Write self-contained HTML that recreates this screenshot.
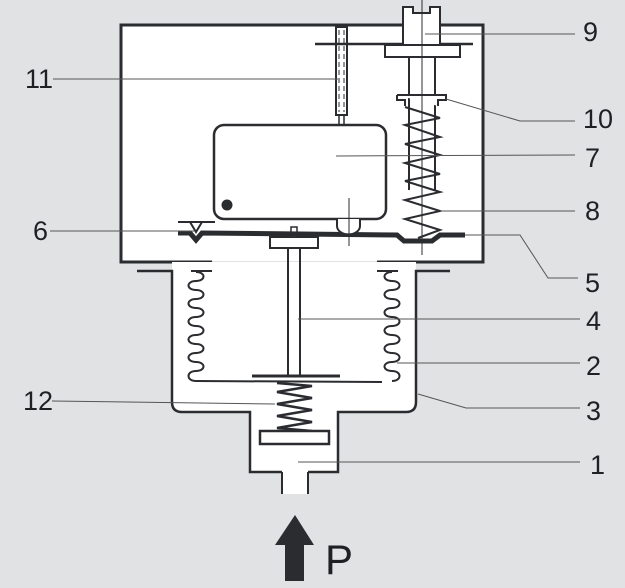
<!DOCTYPE html>
<html><head><style>
html,body{margin:0;padding:0;background:#e1e2e4;}
svg{display:block;}
text{font-family:"Liberation Sans",sans-serif;font-size:27px;fill:#1e2024;}
</style></head><body>
<svg width="625" height="588" viewBox="0 0 625 588" xmlns="http://www.w3.org/2000/svg">
<rect width="625" height="588" fill="#e1e2e4"/>
<g stroke="#2a2c30" fill="none" stroke-linecap="butt">
<!-- top box -->
<rect x="122" y="26" width="360" height="235" fill="#fff" stroke="none"/>
<path d="M212,262 L121,262 L121,25 L483,25 L483,262 L377,262" stroke-width="3"/>
<!-- lower housing -->
<path d="M172,271 L172,402 Q172,412 182,412 L250,412 L250,472 L282,472 L282,494 L308,494 L308,472 L338,472 L338,412 L406,412 Q416,412 416,402 L416,271 Z" fill="#fff" stroke="none"/>
<rect x="172" y="262" width="244" height="10" fill="#fff" stroke="none"/>
<path d="M137,271 L172,271 L172,402 Q172,412 182,412 L250,412 L250,472 L282,472 M308,472 L338,472 L338,412 L406,412 Q416,412 416,402 L416,271 L450,271" stroke-width="2.5"/>
<path d="M282,472 L282,494 M308,472 L308,494" stroke-width="2"/>
<path d="M191,271 L212,271 M377,271 L398,271" stroke-width="2"/>
<!-- bellows -->
<path d="M196,272 c10,0 10,9 0,9 c-10,0 -10,9 0,9 c10,0 10,9 0,9 c-10,0 -10,9 0,9 c10,0 10,9 0,9 c-10,0 -10,9 0,9 c10,0 10,9 0,9 c-10,0 -10,9 0,9 c10,0 10,9 0,9 c-10,0 -10,9 0,9 c10,0 10,9 0,9 c-10,0 -10,10 0,10 L382,382" stroke-width="2"/>
<path d="M392,272 c-10,0 -10,9 0,9 c10,0 10,9 0,9 c-10,0 -10,9 0,9 c10,0 10,9 0,9 c-10,0 -10,9 0,9 c10,0 10,9 0,9 c-10,0 -10,9 0,9 c10,0 10,9 0,9 c-10,0 -10,9 0,9 c10,0 10,9 0,9 c-10,0 -10,9 0,9 c10,0 10,10 0,10" stroke-width="2"/>
<!-- stem & plate -->
<path d="M288,248 L288,376 M300,248 L300,376" stroke-width="2"/>
<path d="M252,376 L340,376" stroke-width="3"/>
<!-- spring 12 -->
<path d="M277,383 L312,386 L277,392 L312,398 L277,404 L312,410 L277,416 L312,422 L277,428 L312,431" stroke-width="2.5"/>
<rect x="260" y="431" width="69" height="13" fill="#fff" stroke-width="2.5"/>
<!-- lever mount -->
<rect x="270" y="237" width="48" height="11" fill="#fff" stroke-width="2"/>
<rect x="291" y="227" width="6" height="10" fill="#fff" stroke-width="1.5"/>
<!-- lever -->
<path d="M178,233 L190,233 L196,240 L202,233 L397,235 L404,241 L432,241 L440,235 L465,235" stroke-width="5"/>
<!-- part 6 -->
<path d="M178,222 L215,222 M190,222 L196,232 L202,222" stroke-width="2"/>
<!-- switch -->
<rect x="214" y="125" width="172" height="94" rx="10" fill="#fff" stroke-width="2.5"/>
<circle cx="227" cy="205" r="5.5" fill="#2a2c30" stroke="none"/>
<path d="M337,219 L337,226 A11,8 0 0 0 360,226 L360,219" fill="#fff" stroke-width="2"/>
<path d="M349,198 L349,246" stroke-width="1"/>
<!-- rod 11 -->
<rect x="336" y="27" width="11" height="88" fill="#fff" stroke-width="2"/>
<path d="M339,30 L339,112 M344,30 L344,112" stroke-width="1" stroke-dasharray="5,3"/>
<path d="M339,115 L339,125 M344,115 L344,125" stroke-width="1.5"/>
<path d="M315,44 L473,44" stroke-width="2.5"/>
<!-- screw 9 -->
<path d="M403,44 L403,7 L413,7 L413,13 L430,13 L430,7 L440,7 L440,44" fill="#fff" stroke-width="2"/>
<rect x="385" y="45" width="75" height="12" fill="#fff" stroke-width="2"/>
<path d="M409,57 L409,190 M435,57 L435,190" stroke-width="2"/>
<path d="M397,95 L446,95 L446,100 L438,100 L438,106 M397,95 L397,100 L405,100 L405,106" fill="#fff" stroke-width="2"/>
<path d="M422,0 L422,255" stroke-width="1"/>
<!-- spring 8 -->
<path d="M405,107 L440,118 L405,125 L440,137 L405,144 L440,155 L405,163 L440,174 L405,181 L440,192 L405,200 L440,211 L405,219 L440,230 L418,238" stroke-width="2"/>
<!-- leaders -->
<g stroke="#555" stroke-width="1">
<path d="M425,34 L575,34"/>
<path d="M446,99 L520,121 L575,121"/>
<path d="M336,156 L575,155"/>
<path d="M440,211 L575,211"/>
<path d="M465,235 L520,235 L548,278 L578,278"/>
<path d="M298,319 L580,319"/>
<path d="M397,363 L580,363"/>
<path d="M418,394 L466,408 L580,408"/>
<path d="M298,462 L580,462"/>
<path d="M53,79 L338,79"/>
<path d="M50,231 L195,231"/>
<path d="M52,401 L275,404"/>
</g>
</g>
<!-- arrow -->
<path d="M295,515 L314,545 L304,545 L304,581 L285,581 L285,545 L275,545 Z" fill="#2a2c30"/>
<text x="325" y="574" style="font-size:42px">P</text>
<text x="583" y="41">9</text>
<text x="583" y="128">10</text>
<text x="585" y="167">7</text>
<text x="585" y="220">8</text>
<text x="585" y="292">5</text>
<text x="586" y="330">4</text>
<text x="586" y="375">2</text>
<text x="586" y="420">3</text>
<text x="590" y="474">1</text>
<text x="25" y="88">11</text>
<text x="33" y="240">6</text>
<text x="23" y="410">12</text>
</svg>
</body></html>
